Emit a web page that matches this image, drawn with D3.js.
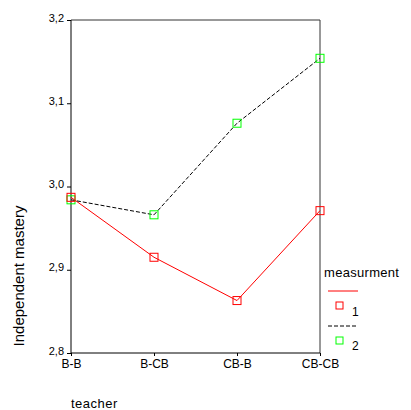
<!DOCTYPE html>
<html lang="en">
<head>
<meta charset="UTF-8">
<title>Independent mastery</title>
<style>
  body { margin: 0; background: #fff; }
  text { font-family: Arial, "Liberation Sans", sans-serif; fill: #000; }
</style>
</head>
<body>
<svg width="411" height="410"></svg>
<script src="https://cdn.jsdelivr.net/npm/d3@7"></script>
<script>
// data
var categories = ["B-B", "B-CB", "CB-B", "CB-CB"];
var series1 = [2.987, 2.915, 2.863, 2.971];   // measurment 1
var series2 = [2.984, 2.966, 3.076, 3.154];   // measurment 2
var yTicks = [2.8, 2.9, 3.0, 3.1, 3.2];

var svg = d3.select("svg");
var box = {left: 71, right: 320, top: 20, bottom: 353};

var x = d3.scalePoint().domain(categories).range([box.left, box.right]);
var y = d3.scaleLinear().domain([2.8, 3.2]).range([box.bottom, box.top]);

// frame (top and right)
svg.append("path")
  .attr("d", "M" + box.left + "," + box.top + "H" + box.right + "V" + box.bottom)
  .attr("fill", "none").attr("stroke", "#333").attr("stroke-width", 1);

// y axis
var yAxis = d3.axisLeft(y).tickValues(yTicks).tickSize(4)
  .tickFormat(function(d){ return d3.format(".1f")(d).replace(".", ","); });
var gy = svg.append("g").attr("transform", "translate(" + box.left + ",0)").call(yAxis);
gy.select(".domain").attr("stroke", "#000").attr("d", "M0," + box.bottom + "V" + box.top);
gy.selectAll("text").attr("font-size", 11).attr("x", -7).attr("dy", "0.1em");

// x axis
var xAxis = d3.axisBottom(x).tickSize(3).tickPadding(3);
var gx = svg.append("g").attr("transform", "translate(0," + box.bottom + ")").call(xAxis);
gx.select(".domain").attr("stroke", "#000").attr("d", "M" + box.left + ",0H" + box.right);
gx.selectAll("text").attr("font-size", 12);

// titles
svg.append("text").attr("transform", "translate(24,276) rotate(-90)")
  .attr("text-anchor", "middle").attr("font-size", 15).text("Independent mastery");
svg.append("text").attr("x", 71).attr("y", 408).attr("font-size", 13)
  .attr("letter-spacing", "0.5px").text("teacher");

var line = d3.line().x(function(d, i){ return x(categories[i]); }).y(function(d){ return y(d); });

svg.append("path").datum(series1).attr("d", line)
  .attr("fill", "none").attr("stroke", "#ff0000").attr("stroke-width", 1);
svg.append("path").datum(series2).attr("d", line)
  .attr("fill", "none").attr("stroke", "#000").attr("stroke-width", 1).attr("stroke-dasharray", "4,2");

function markers(data, color) {
  svg.selectAll(null).data(data).enter().append("rect")
    .attr("x", function(d, i){ return x(categories[i]) - 4; })
    .attr("y", function(d){ return y(d) - 4; })
    .attr("width", 8).attr("height", 8)
    .attr("fill", "none").attr("stroke", color).attr("stroke-width", 1);
}
markers(series2, "#00ff00");
markers(series1, "#ff0000");

// legend
var lg = svg.append("g");
lg.append("text").attr("x", 324).attr("y", 277).attr("font-size", 13)
  .attr("letter-spacing", "0.3px").text("measurment");
lg.append("line").attr("x1", 328).attr("x2", 358).attr("y1", 291).attr("y2", 291)
  .attr("stroke", "#ff0000");
lg.append("rect").attr("x", 336).attr("y", 302).attr("width", 7).attr("height", 7)
  .attr("fill", "none").attr("stroke", "#ff0000");
lg.append("text").attr("x", 352).attr("y", 316).attr("font-size", 12).text("1");
lg.append("line").attr("x1", 328).attr("x2", 356).attr("y1", 326).attr("y2", 326)
  .attr("stroke", "#000").attr("stroke-dasharray", "4,2");
lg.append("rect").attr("x", 336).attr("y", 337).attr("width", 7).attr("height", 7)
  .attr("fill", "none").attr("stroke", "#00ff00");
lg.append("text").attr("x", 352).attr("y", 350).attr("font-size", 12).text("2");
</script>
</body>
</html>
